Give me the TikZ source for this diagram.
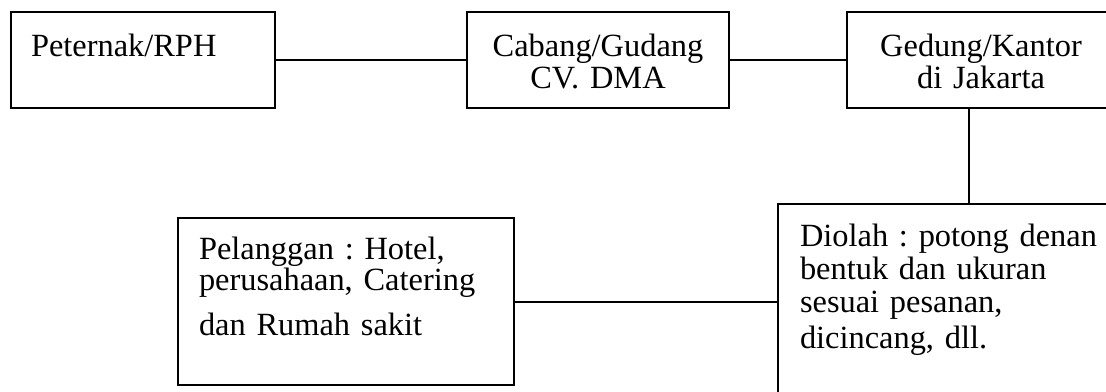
\documentclass[tikz,border=0pt]{standalone}
\usepackage{fontspec}
\setmainfont{Liberation Serif}
\frenchspacing
\tikzset{
  box/.style={draw, line width=1pt, inner ysep=0pt, anchor=north west, font=\fontsize{16.2}{16}\selectfont},
  link/.style={line width=1pt}
}
\begin{document}
\begin{tikzpicture}[x=0.5pt,y=-0.5pt]
    \clip (0,0) rectangle (1106,391);
    % top row
    \node[box, align=left, inner xsep=10pt, text width=112pt, minimum width=132pt, text height=22pt, text depth=26pt] (rph) at (10,11) {Peternak/RPH};
    \node[box, align=center, inner xsep=0pt, text width=131pt, minimum width=131pt, text height=22pt, text depth=26pt] (cabang) at (466,11) {Cabang/Gudang\\CV. DMA};
    \node[box, align=center, inner xsep=0pt, text width=134pt, minimum width=134pt, text height=22pt, text depth=26pt] (gedung) at (846,11) {Gedung/Kantor\\di Jakarta};
    % bottom row
    \node[box, align=left, inner xsep=10.5pt, text width=147pt, minimum width=168pt, text height=20.5pt, text depth=63pt] (pelanggan) at (177,217) {Pelanggan : Hotel,\\[-0.5pt]perusahaan, Catering\\[6.5pt]dan Rumah sakit};
    \node[box, align=left, inner xsep=11pt, text width=154.5pt, minimum width=176.5pt, text height=21pt, text depth=87.5pt] (diolah) at (777,203) {Diolah : potong denan\\[0.5pt]bentuk dan ukuran\\[0.5pt]sesuai pesanan,\\[2pt]dicincang, dll.};
    % connectors
    \draw[link] (rph.east) -- (cabang.west);
    \draw[link] (cabang.east) -- (gedung.west);
    \draw[link] (gedung.south west) ++(123,0) coordinate (g) -- (g |- diolah.north);
    \draw[link] (pelanggan.east) -- (pelanggan.east -| diolah.west);
\end{tikzpicture}
\end{document}
